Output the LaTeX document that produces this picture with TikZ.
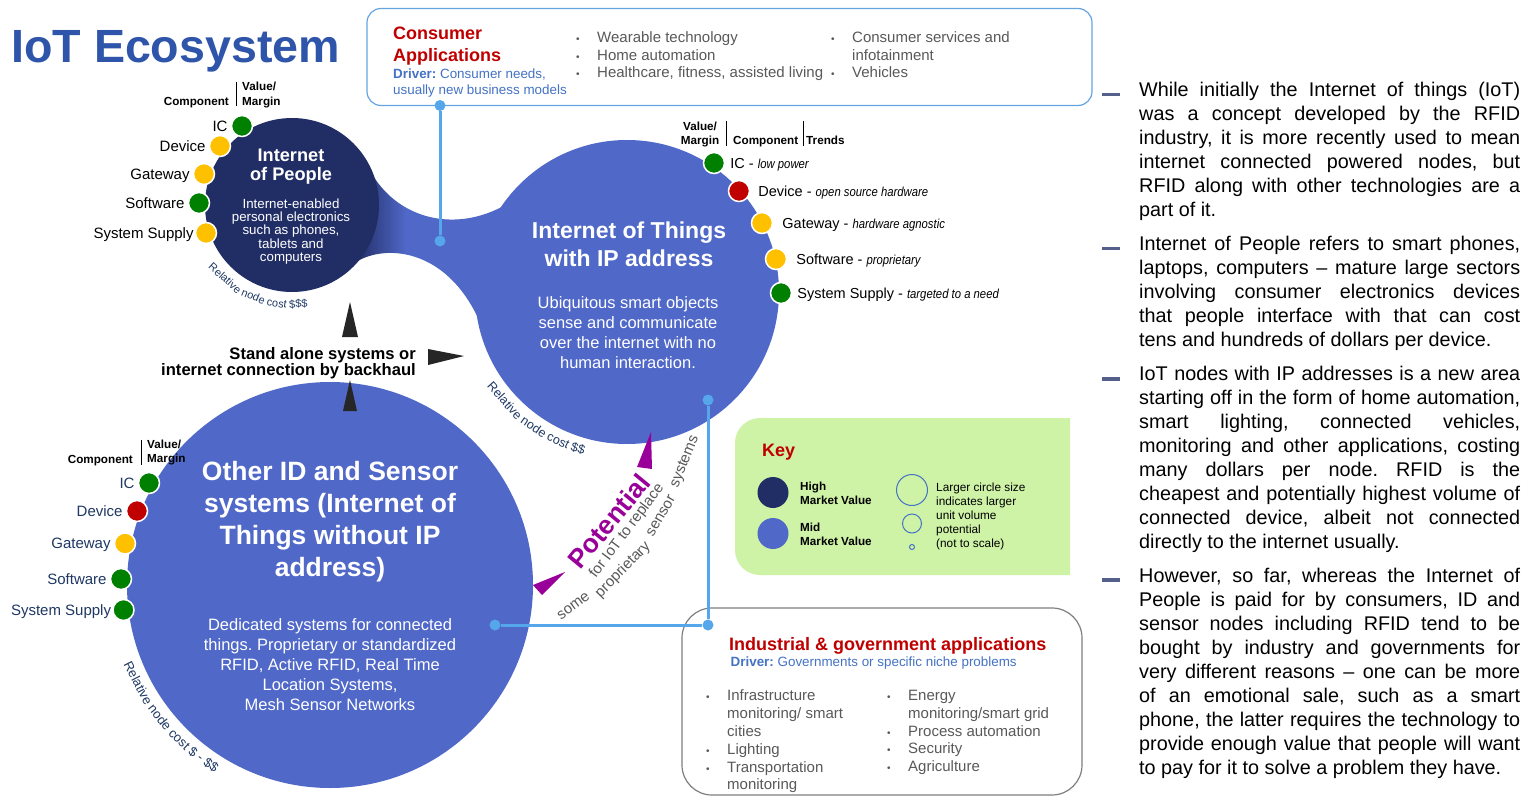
\documentclass[tikz,border=0pt]{standalone}
\usepackage{fontspec}
\setmainfont{Liberation Sans}
\usepackage{graphicx}
\usetikzlibrary{positioning,calc}
\definecolor{titleblue}{RGB}{47,85,170}
\definecolor{iopnavy}{RGB}{33,46,102}
\definecolor{iotblue}{RGB}{80,104,200}
\definecolor{linkblue}{RGB}{86,166,236}
\definecolor{consline}{RGB}{100,165,225}
\definecolor{appred}{RGB}{192,0,0}
\definecolor{drvblue}{RGB}{68,114,196}
\definecolor{bodygray}{RGB}{89,89,89}
\definecolor{boxgray}{RGB}{127,127,127}
\definecolor{okgreen}{RGB}{0,128,0}
\definecolor{midyellow}{RGB}{255,192,0}
\definecolor{lowred}{RGB}{192,0,0}
\definecolor{keygreen}{RGB}{206,242,166}
\definecolor{costblue}{RGB}{31,56,100}
\definecolor{potpurple}{RGB}{153,0,153}
\definecolor{arrowdark}{RGB}{38,38,38}
\definecolor{dashblue}{RGB}{85,96,138}
\pgfdeclarehorizontalshading{neckshade}{100bp}{color(0bp)=(iopnavy); color(25bp)=(iopnavy); color(38bp)=(iotblue); color(100bp)=(iotblue)}
\newcommand{\fsz}[2]{\fontsize{#1pt}{#2pt}\selectfont}
\newcommand{\trend}[1]{\scalebox{0.87}[1]{\fsz{13}{15}\itshape #1}}
\newcommand{\bul}{\makebox[21pt][l]{\fsz{10}{10}\textbullet}}
\newcommand{\bulskip}{\hspace*{21pt}}
\frenchspacing
\tikzset{
  blob/.style={circle,inner sep=0pt},
  cdot/.style={circle,draw=white,line width=1.5pt,minimum size=21pt,inner sep=0pt},
  clab/.style={inner sep=0pt,font=\fsz{15}{17},text height=10.8pt,text depth=0pt},
  hdr/.style={inner sep=0pt,font=\bfseries\fsz{11.7}{14.3}},
  jdot/.style={circle,fill=linkblue,minimum size=11pt,inner sep=0pt},
  link/.style={linkblue,line width=3pt},
  txt/.style={inner sep=0pt,anchor=north west,align=left},
  ctxt/.style={inner sep=0pt,anchor=north,align=center,text=white},
  arcword/.style={inner sep=0pt,anchor=base,text=costblue},
  potword/.style={inner sep=0pt,text=bodygray,font=\fsz{15}{17}},
  para/.style={inner sep=0pt,anchor=north west,text width=381pt,align=justify,font=\fsz{19.8}{24}},
}
\begin{document}
\begin{tikzpicture}[x=1pt,y=-1pt]
\useasboundingbox (0,0) rectangle (1535,798);
\fill[white] (0,0) rectangle (1535,798);
\node[anchor=base west,inner sep=0pt,font=\bfseries\fsz{46.6}{50},text=titleblue] (title) at (11,62) {IoT Ecosystem};

% boxes
\node[draw=consline,line width=1.2pt,rounded corners=14pt,minimum width=725pt,minimum height=97pt,inner sep=0pt] (cons) at (729.5,57) {};
\node[draw=boxgray,line width=1.2pt,rounded corners=30pt,minimum width=400pt,minimum height=187pt,inner sep=0pt] (ind) at (882,701.5) {};
\fill[keygreen] (1070,418) -- (760,418) arc[start angle=90,end angle=180,radius=25pt] -- (735,550) arc[start angle=180,end angle=270,radius=25pt] -- (1070,575) -- cycle;

% the three circles
\shade[shading=neckshade] (365,160) .. controls (395,233) and (490,243) .. (548,167) -- (478,318) .. controls (445,248) and (385,244) .. (356,262) -- cycle;
\node[blob,fill=iotblue,minimum size=304pt] (iot) at (627,292) {};
\node[blob,fill=iopnavy,minimum size=174pt] (iop) at (292,205) {};
\node[blob,fill=iotblue,minimum size=406pt] (oth) at (330,585) {};

% links to the application boxes
\node[jdot] (ca) at (440,105.5) {};
\node[jdot] (cb) at (440,241) {};
\node[jdot] (ia) at (708,400) {};
\node[jdot] (ib) at (708,625) {};
\node[jdot] (ic) at (495,625) {};
\draw[link] (ca) -- (cb);
\draw[link] (ia) -- (ib) -- (ic);

% stand alone arrows
\fill[arrowdark] (350,302) -- (358,337) -- (342,337) -- cycle;
\fill[arrowdark] (428,349) -- (464,356) -- (428,365) -- cycle;
\fill[arrowdark] (350,380) -- (357,411) -- (343,411) -- cycle;
\node[anchor=north east,inner sep=0pt,align=right,font=\bfseries\fsz{16.6}{15.8}] (alone) at (416,347.3) {Stand alone systems or\\internet connection by backhaul};

% potential
\fill[potpurple] (651,432) -- (652,469) -- (637,467) -- cycle;
\fill[potpurple] (533,585) -- (565,572) -- (542,595) -- cycle;
\node[rotate=50.5,inner sep=0pt,font=\bfseries\fsz{26.5}{28},text=potpurple] (pot) at (609,521) {Potential};
\node[rotate=53,inner sep=0pt,font=\fsz{15}{17},text=bodygray] (potsub) at (627,531) {for IoT to replace};
\node[potword,rotate=36.6] at (573.5,606) {some};
\node[potword,rotate=45.7] at (623,570) {proprietary};
\node[potword,rotate=60] at (661,516) {sensor};
\node[potword,rotate=68] at (685,462) {systems};

% circle texts
\node[ctxt,font=\bfseries\fsz{18.2}{18.5}] at (291,149) {Internet\\of People};
\node[ctxt,font=\fsz{13.3}{13.3}] at (291,198.5) {Internet-enabled\\personal electronics\\such as phones,\\tablets and\\computers};
\node[ctxt,font=\bfseries\fsz{23}{27.5}] at (629,222) {Internet of Things\\with IP address};
\node[ctxt,font=\fsz{16.5}{20}] at (628,296) {Ubiquitous smart objects\\sense and communicate\\over the internet with no\\human interaction.};
\node[ctxt,font=\bfseries\fsz{26.5}{32}] at (330,461.4) {Other ID and Sensor\\systems (Internet of\\Things without IP\\address)};
\node[ctxt,font=\fsz{16.5}{20}] at (330,618) {Dedicated systems for connected\\things. Proprietary or standardized\\RFID, Active RFID, Real Time\\Location Systems,\\Mesh Sensor Networks};

% node cost, word by word round the circles
\node[arcword,font=\fsz{11}{13},rotate=317.6] at ($(iop)+(227.6:103pt)$) {Relative};
\node[arcword,font=\fsz{11}{13},rotate=337.1] at ($(iop)+(247.1:103pt)$) {node};
\node[arcword,font=\fsz{11}{13},rotate=351.2] at ($(iop)+(261.2:103pt)$) {cost};
\node[arcword,font=\fsz{11}{13},rotate=3.7] at ($(iop)+(273.7:103pt)$) {\$\$\$};
\node[arcword,font=\fsz{12.5}{14},rotate=311.7] at ($(iot)+(221.7:168pt)$) {Relative};
\node[arcword,font=\fsz{12.5}{14},rotate=325.3] at ($(iot)+(235.3:168pt)$) {node};
\node[arcword,font=\fsz{12.5}{14},rotate=335.2] at ($(iot)+(245.2:168pt)$) {cost};
\node[arcword,font=\fsz{12.5}{14},rotate=342.6] at ($(iot)+(252.6:168pt)$) {\$\$};
\node[arcword,font=\fsz{13}{15},rotate=297.1] at ($(oth)+(207.1:220pt)$) {Relative};
\node[arcword,font=\fsz{13}{15},rotate=307.9] at ($(oth)+(217.9:220pt)$) {node};
\node[arcword,font=\fsz{13}{15},rotate=315.7] at ($(oth)+(225.7:220pt)$) {cost};
\node[arcword,font=\fsz{13}{15},rotate=324.1] at ($(oth)+(234.1:220pt)$) {\$ - \$\$};

% internet of people components
\node[hdr,anchor=base east] at (229,105) {Component};
\node[hdr,txt] at (242,82.3) {Value/\\Margin};
\draw (236,82) -- (236,106);
\node[cdot,fill=okgreen] (pa) at (242,126) {};
\node[cdot,fill=midyellow] (pb) at (220,146) {};
\node[cdot,fill=midyellow] (pc) at (204,174) {};
\node[cdot,fill=okgreen] (pd) at (199,203) {};
\node[cdot,fill=midyellow] (pe) at (206,233) {};
\node[clab,left=3pt of pa] {IC};
\node[clab,left=3pt of pb] {Device};
\node[clab,left=3pt of pc] {Gateway};
\node[clab,left=3pt of pd] {Software};
\node[clab,left=1pt of pe] {System Supply};

% internet of things components
\node[hdr,align=center,anchor=north] at (700,121.6) {Value/\\Margin};
\draw (726.5,121) -- (726.5,146);
\node[hdr,anchor=base west] at (733,144) {Component};
\draw (803,121) -- (803,146);
\node[hdr,anchor=base west] at (806,144) {Trends};
\node[cdot,fill=okgreen] (ta) at (714,163) {};
\node[cdot,fill=lowred] (tb) at (739,191) {};
\node[cdot,fill=midyellow] (tc) at (762,223) {};
\node[cdot,fill=midyellow] (td) at (776,259) {};
\node[cdot,fill=okgreen] (te) at (781,293) {};
\node[clab,font=\fsz{14.5}{17},right=5pt of ta] {IC - \trend{low power}};
\node[clab,font=\fsz{14.5}{17},right=8pt of tb] {Device - \trend{open source hardware}};
\node[clab,font=\fsz{14.5}{17},right=9pt of tc] {Gateway - \trend{hardware agnostic}};
\node[clab,font=\fsz{14.5}{17},right=9pt of td] {Software - \trend{proprietary}};
\node[clab,font=\fsz{14.5}{17},right=5pt of te] {System Supply - \trend{targeted to a need}};

% other id and sensor components
\node[hdr,anchor=base east] at (133,463) {Component};
\node[hdr,txt] at (147,439.6) {Value/\\Margin};
\draw (141,440) -- (141,465);
\node[cdot,fill=okgreen] (oa) at (149,483) {};
\node[cdot,fill=lowred] (ob) at (137,511) {};
\node[cdot,fill=midyellow] (oc) at (125,543.5) {};
\node[cdot,fill=okgreen] (od) at (121,579) {};
\node[cdot,fill=okgreen] (oe) at (123.5,610) {};
\node[clab,text=costblue,left=3pt of oa] {IC};
\node[clab,text=costblue,left=3pt of ob] {Device};
\node[clab,text=costblue,left=3pt of oc] {Gateway};
\node[clab,text=costblue,left=3pt of od] {Software};
\node[clab,text=costblue,left=1pt of oe] {System Supply};

% consumer applications
\node[txt,font=\bfseries\fsz{18}{22},text=appred] at (393,27) {Consumer\\Applications};
\node[txt,font=\fsz{13.4}{15.7},text=drvblue] at (393,68.7) {\textbf{Driver:} Consumer needs,\\usually new business models};
\node[txt,font=\fsz{15}{17.7},text=bodygray] at (576,31.5) {\bul Wearable technology\\\bul Home automation\\\bul Healthcare, fitness, assisted living};
\node[txt,font=\fsz{15}{17.7},text=bodygray] at (831,31.5) {\bul Consumer services and\\\bulskip infotainment\\\bul Vehicles};

% industrial applications
\node[txt,font=\bfseries\fsz{18}{22},text=appred] at (729,637) {Industrial \& government applications};
\node[txt,font=\fsz{13.4}{16},text=drvblue] at (730.5,657) {\textbf{Driver:} Governments or specific niche problems};
\node[txt,font=\fsz{15}{17.8},text=bodygray] at (706,689.9) {\bul Infrastructure\\\bulskip monitoring/ smart\\\bulskip cities\\\bul Lighting\\\bul Transportation\\\bulskip monitoring};
\node[txt,font=\fsz{15}{17.8},text=bodygray] at (887,689.9) {\bul Energy\\\bulskip monitoring/smart grid\\\bul Process automation\\\bul Security\\\bul Agriculture};

% key
\node[anchor=base west,inner sep=0pt,font=\bfseries\fsz{18}{22},text=appred] (keyt) at (762,456.7) {Key};
\node[blob,fill=iopnavy,minimum size=31pt] (khigh) at (773,492.5) {};
\node[blob,fill=iotblue,minimum size=31pt] (kmid) at (773,533.5) {};
\node[txt,font=\bfseries\fsz{11.7}{14}] at (800,482) {High\\Market Value};
\node[txt,font=\bfseries\fsz{11.7}{14}] at (800,523) {Mid\\Market Value};
\node[blob,draw=drvblue,line width=1pt,minimum size=31pt] (kbig) at (912,490) {};
\node[blob,draw=drvblue,line width=1pt,minimum size=19pt] (kmed) at (912,523.5) {};
\node[blob,draw=drvblue,line width=1pt,minimum size=5pt] (ksmall) at (912,547) {};
\node[txt,font=\fsz{11.8}{14.2}] at (936,482.4) {Larger circle size\\indicates larger\\unit volume\\potential\\(not to scale)};

% right hand notes
\fill[dashblue] (1102,92.7) rectangle (1120,96.3);
\fill[dashblue] (1102,246.7) rectangle (1120,250.3);
\fill[dashblue] (1102,376.7) rectangle (1120,380.5);
\fill[dashblue] (1102,578.3) rectangle (1120,581.9);
\node[para] (pone) at (1139,81.5) {\sloppy\hyphenpenalty=10000 While initially the Internet of things (IoT)\linebreak was a concept developed by the RFID\linebreak industry, it is more recently used to mean\linebreak internet connected powered nodes, but\linebreak RFID along with other technologies are a\linebreak part of it.};
\node[para] (ptwo) at (1139,236) {\sloppy\hyphenpenalty=10000 Internet of People refers to smart phones,\linebreak laptops, computers – mature large sectors\linebreak involving consumer electronics devices\linebreak that people interface with that can cost\linebreak tens and hundreds of dollars per device.};
\node[para] (pthree) at (1139,365.5) {\sloppy\hyphenpenalty=10000 IoT nodes with IP addresses is a new area\linebreak starting off in the form of home automation,\linebreak smart lighting, connected vehicles,\linebreak monitoring and other applications, costing\linebreak many dollars per node. RFID is the\linebreak cheapest and potentially highest volume of\linebreak connected device, albeit not connected\linebreak directly to the internet usually.};
\node[para] (pfour) at (1139,568) {\sloppy\hyphenpenalty=10000 However, so far, whereas the Internet of\linebreak People is paid for by consumers, ID and\linebreak sensor nodes including RFID tend to be\linebreak bought by industry and governments for\linebreak very different reasons – one can be more\linebreak of an emotional sale, such as a smart\linebreak phone, the latter requires the technology to\linebreak provide enough value that people will want\linebreak to pay for it to solve a problem they have.};
\end{tikzpicture}
\end{document}
